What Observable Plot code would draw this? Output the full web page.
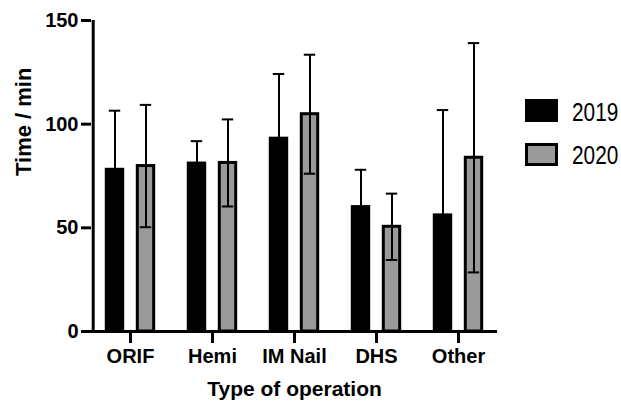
<!DOCTYPE html>
<html>
<head>
<meta charset="utf-8">
<script src="https://cdn.jsdelivr.net/npm/d3@7"></script>
<script src="https://cdn.jsdelivr.net/npm/@observablehq/plot@0.6"></script>
<style>
  body { margin: 0; background: #fff; }
  #wrap { position: relative; width: 621px; height: 411px; font-family: "Liberation Sans", Arial, sans-serif; }
  #wrap svg { position: absolute; left: 0; top: 0; }
  .sw { position: absolute; left: 525px; width: 33px; height: 23px; box-sizing: border-box; border: 3px solid #000; }
  .lt { position: absolute; left: 572px; font-family: "Liberation Sans", Arial, sans-serif; font-size: 26px; line-height: 26px; color: #000; transform: scaleX(0.8); transform-origin: 0 0; white-space: nowrap; }
</style>
</head>
<body>
<div id="wrap"></div>
<script>
const categories = ["ORIF", "Hemi", "IM Nail", "DHS", "Other"];
const years = ["2019", "2020"];
const mean2019 = [78, 81, 93, 60, 56];
const sd2019 = [28.5, 10.8, 31.2, 18, 50.8];
const mean2020 = [79.8, 81.3, 104.8, 50.5, 83.8];
const sd2020 = [29.5, 21, 28.7, 16, 55.3];
const yTicks = [0, 50, 100, 150];
const yearColors = ["#000000", "#9a9a9a"];

const rows = [];
categories.forEach((c, i) => {
  rows.push({category: c, year: years[0], mean: mean2019[i], sd: sd2019[i]});
  rows.push({category: c, year: years[1], mean: mean2020[i], sd: sd2020[i]});
});
const r19 = rows.filter(d => d.year === years[0]);
const r20 = rows.filter(d => d.year === years[1]);

const font = "Liberation Sans, Arial, sans-serif";
const W = 621, H = 411, mTop = 20, mBottom = 80;
const pxPerUnit = (H - mBottom - mTop) / 150;
const tickLen = 12 / pxPerUnit; // 12px category tick length in y units

const chart = Plot.plot({
  width: W,
  height: H,
  marginTop: mTop,
  marginBottom: mBottom,
  marginLeft: 91,
  marginRight: 124,
  style: {fontFamily: font, background: "transparent", color: "#000"},
  x: {domain: categories, range: [87, 500], padding: 0},
  y: {domain: [0, 150]},
  color: {domain: years, range: yearColors},
  marks: [
    Plot.barY(r19, {x: "category", y: "mean", fill: "year", stroke: "#000", strokeWidth: 3, insetLeft: 17.3, insetRight: 48.3}),
    Plot.barY(r20, {x: "category", y: "mean", fill: "year", stroke: "#000", strokeWidth: 3, insetLeft: 48.3, insetRight: 17.3}),
    Plot.ruleX(r19, {x: "category", y1: d => d.mean - d.sd, y2: d => d.mean + d.sd, dx: -15.5, strokeWidth: 2}),
    Plot.ruleX(r20, {x: "category", y1: d => d.mean - d.sd, y2: d => d.mean + d.sd, dx: 15.5, strokeWidth: 2}),
    Plot.tickY(r19, {x: "category", y: d => d.mean + d.sd, insetLeft: 19.8, insetRight: 50.8, strokeWidth: 2}),
    Plot.tickY(r19, {x: "category", y: d => d.mean - d.sd, insetLeft: 19.8, insetRight: 50.8, strokeWidth: 2}),
    Plot.tickY(r20, {x: "category", y: d => d.mean + d.sd, insetLeft: 50.8, insetRight: 19.8, strokeWidth: 2}),
    Plot.tickY(r20, {x: "category", y: d => d.mean - d.sd, insetLeft: 50.8, insetRight: 19.8, strokeWidth: 2}),
    // axis lines
    Plot.ruleY([0], {strokeWidth: 3}),
    Plot.ruleX([categories[0]], {x: d => d, y1: 0, y2: 150, dx: -37.3, strokeWidth: 3}),
    // category tick marks below the x axis
    Plot.ruleX(categories, {x: d => d, y1: 0, y2: -tickLen, strokeWidth: 3}),
    Plot.axisY({ticks: yTicks, tickSize: 10, tickPadding: 3, strokeWidth: 3, fontSize: 20, fontWeight: "bold", label: null}),
    Plot.axisX({tickSize: 0, tickPadding: 17, fontSize: 20, fontWeight: "bold", label: null}),
    Plot.text(["Type of operation"], {text: d => d, frameAnchor: "bottom", dy: 64, fontSize: 21, fontWeight: "bold"}),
    Plot.text(["Time / min"], {text: d => d, frameAnchor: "left", dx: -68, rotate: -90, fontSize: 22, fontWeight: "bold"})
  ]
});

const wrap = document.getElementById("wrap");
wrap.appendChild(chart);

// legend
const legendTops = [99, 143];
const textTops = [98.8, 141.8];
years.forEach((y, i) => {
  const sw = document.createElement("div");
  sw.className = "sw";
  sw.style.top = legendTops[i] + "px";
  sw.style.background = yearColors[i];
  wrap.appendChild(sw);
  const t = document.createElement("div");
  t.className = "lt";
  t.style.top = textTops[i] + "px";
  t.textContent = y;
  wrap.appendChild(t);
});
</script>
</body>
</html>
